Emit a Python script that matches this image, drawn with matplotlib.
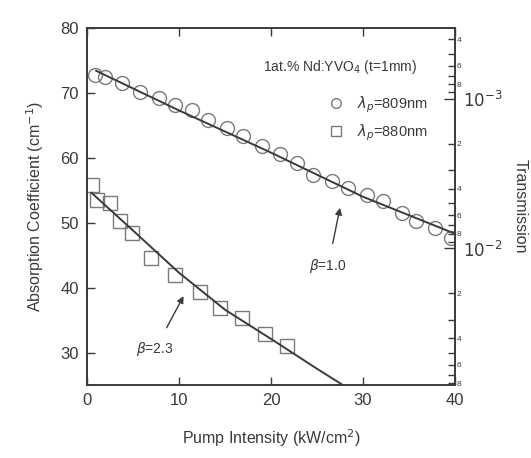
import numpy as np
import matplotlib
matplotlib.use('Agg')
import matplotlib.pyplot as plt

plt.rcParams['font.family'] = ['Liberation Sans', 'DejaVu Sans']

# measured points, lambda_p = 809 nm (circles)
i_809 = [0.9, 2.0, 3.8, 5.8, 7.8, 9.6, 11.4, 13.2, 15.2, 17.0, 19.0, 21.0, 22.8,
         24.6, 26.6, 28.4, 30.4, 32.2, 34.2, 35.8, 37.8, 39.6]
a_809 = [72.8, 72.5, 71.5, 70.2, 69.2, 68.2, 67.4, 65.8, 64.6, 63.3, 61.8, 60.6, 59.2,
         57.4, 56.4, 55.3, 54.3, 53.3, 51.5, 50.2, 49.2, 47.6]

# measured points, lambda_p = 880 nm (squares)
i_880 = [0.5, 1.05, 2.5, 3.6, 4.9, 7.0, 9.6, 12.3, 14.5, 16.8, 19.3, 21.7]
a_880 = [55.8, 53.5, 53.0, 50.2, 48.4, 44.6, 42.0, 39.3, 36.9, 35.3, 32.8, 31.0]

# fitted curves
fit_809_i = [1.0, 10, 20, 30, 40]
fit_809_a = [73.4, 67.3, 60.8, 54.0, 48.3]
fit_880_i = [0.5, 5, 10, 15, 20, 25, 27.8]
fit_880_a = [54.6, 48.8, 42.3, 36.6, 32.1, 27.5, 25.0]

# transmission axis (t = 1 mm)
thick_cm = 0.1
t_major = [1e-3, 1e-2]
t_minor = [4e-4, 5e-4, 6e-4, 7e-4, 8e-4, 9e-4,
           2e-3, 3e-3, 4e-3, 5e-3, 6e-3, 7e-3, 8e-3, 9e-3,
           2e-2, 3e-2, 4e-2, 5e-2, 6e-2, 7e-2, 8e-2]
t_minor_labels = ['4', '', '6', '', '8', '',
                  '2', '', '4', '', '6', '', '8', '',
                  '2', '', '4', '', '6', '', '8']

col = '#3a3a3a'
mcol = '#7a7a7a'

fig = plt.figure(figsize=(5.31, 4.58), dpi=100)
ax = fig.add_axes([0.1638, 0.1594, 0.6931, 0.7795])

ax.plot(i_809, a_809, 'o', ms=10, mfc='none', mec=mcol, mew=1.0, label=r'$\lambda_p$=809nm')
ax.plot(i_880, a_880, 's', ms=10, mfc='none', mec=mcol, mew=1.0, label=r'$\lambda_p$=880nm')
ax.plot(fit_809_i, fit_809_a, '-', color=col, lw=1.4)
ax.plot(fit_880_i, fit_880_a, '-', color=col, lw=1.4)

ax.set_xlim(0, 40)
ax.set_ylim(25, 80)
ax.set_xticks([0, 10, 20, 30, 40])
ax.set_yticks([30, 40, 50, 60, 70, 80])
ax.tick_params(axis='both', direction='in', length=6, width=1, colors=col,
               labelsize=12, top=True, right=False, pad=6)
for s in ax.spines.values():
    s.set_color(col)
    s.set_linewidth(1.2)

ax.set_xlabel('Pump Intensity (kW/cm$^2$)', fontsize=11.5, color=col, labelpad=14)
ax.set_ylabel('Absorption Coefficient (cm$^{-1}$)', fontsize=11.5, color=col, labelpad=10)

ax.text(19.1, 74.0, '1at.% Nd:YVO$_4$ (t=1mm)', fontsize=10, color=col, ha='left', va='center')
ax.legend(loc='upper left', bbox_to_anchor=(0.6, 0.85), frameon=False, fontsize=10.5,
          markerscale=0.7, handletextpad=0.5, labelspacing=0.5, labelcolor=col)

ax.annotate(r'$\beta$=1.0', xy=(27.5, 52.3), xytext=(26.2, 43.3), fontsize=10, color=col,
            ha='center', va='center',
            arrowprops=dict(arrowstyle='-|>', color=col, lw=1.0, shrinkA=8, shrinkB=0))
ax.annotate(r'$\beta$=2.3', xy=(10.5, 38.7), xytext=(7.4, 30.5), fontsize=10, color=col,
            ha='center', va='center',
            arrowprops=dict(arrowstyle='-|>', color=col, lw=1.0, shrinkA=8, shrinkB=0))

# right axis: transmission exp(-alpha*t), log spaced ticks
ax2 = ax.twinx()
ax2.set_ylim(25, 80)
ax2.set_yticks([-np.log(t) / thick_cm for t in t_major],
               labels=[r'$10^{-3}$', r'$10^{-2}$'])
ax2.set_yticks([-np.log(t) / thick_cm for t in t_minor], labels=t_minor_labels, minor=True)
ax2.tick_params(axis='y', which='major', direction='in', length=8, width=1, colors=col,
                labelsize=12, pad=6)
ax2.tick_params(axis='y', which='minor', direction='in', length=5, width=1, colors=col,
                labelsize=6, pad=1)
for s in ax2.spines.values():
    s.set_color(col)
    s.set_linewidth(1.2)
ax2.set_ylabel('Transmission', fontsize=11.5, color=col, rotation=-90, labelpad=18)

fig.savefig('out.png', dpi=100)
